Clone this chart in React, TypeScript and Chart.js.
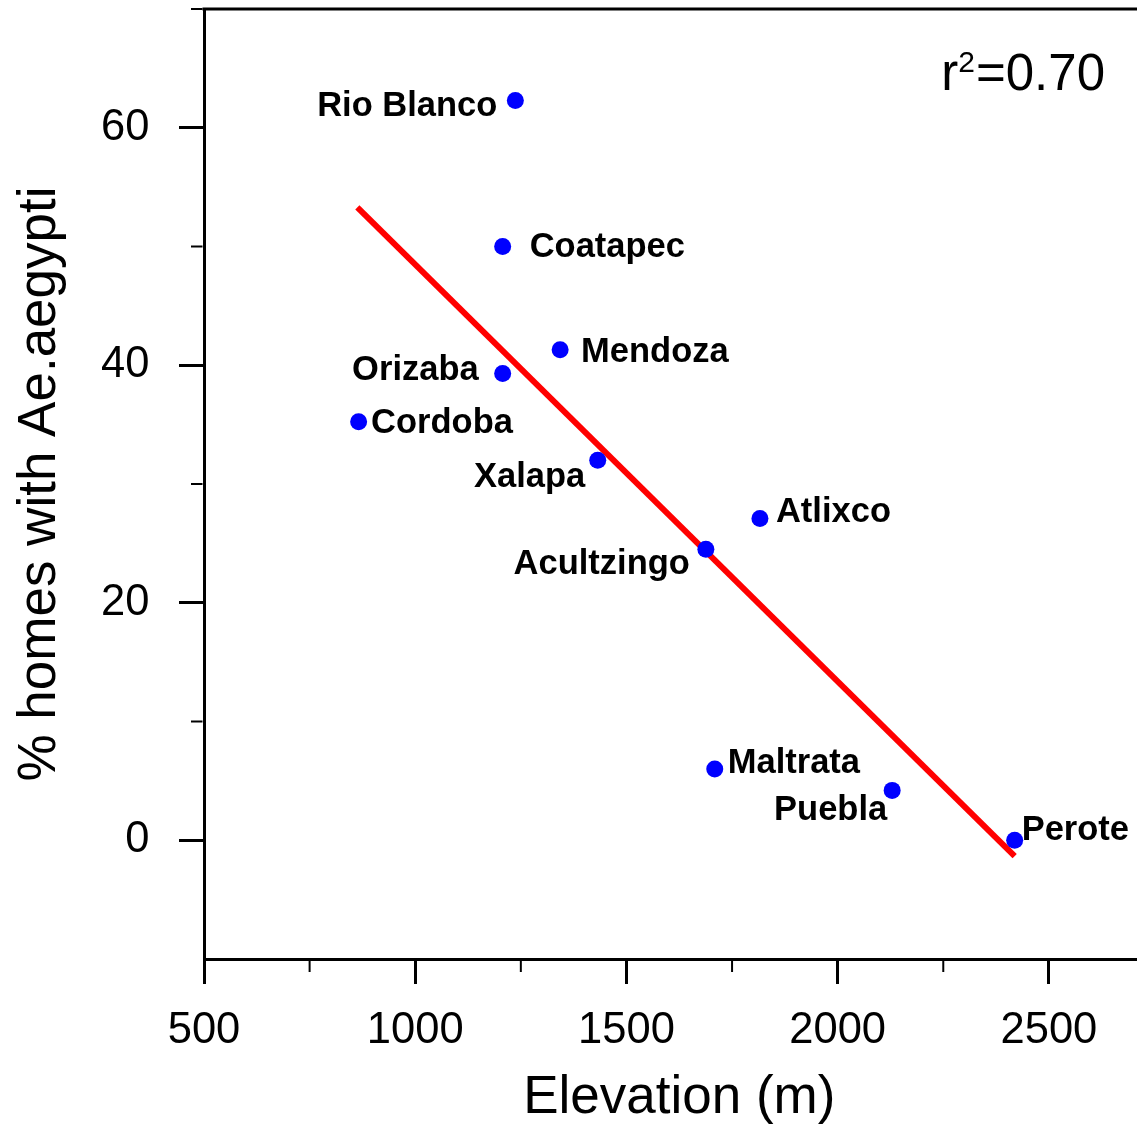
import React, { useEffect, useRef } from "react";
import { Chart, registerables } from "chart.js";

Chart.register(...registerables);

// ---- data ----
const cities = [
  "Rio Blanco",
  "Coatapec",
  "Mendoza",
  "Orizaba",
  "Cordoba",
  "Xalapa",
  "Atlixco",
  "Acultzingo",
  "Maltrata",
  "Puebla",
  "Perote",
];
const elevationM = [1237, 1207, 1343, 1207, 866, 1432, 1816, 1688, 1709, 2129, 2419];
const pctHomesAegypti = [62.3, 50.0, 41.3, 39.3, 35.25, 32.0, 27.1, 24.5, 6.0, 4.2, 0];
const fitElevation = [863, 2419];
const fitPct = [53.3, -1.33];
const xMajorTicks = [500, 1000, 1500, 2000, 2500];
const xMinorTicks = [750, 1250, 1750, 2250, 2750];
const yMajorTicks = [0, 20, 40, 60];
const yMinorTicks = [10, 30, 50, 70];
const rSquaredValue = "0.70";

// ---- label placement (layout only) ----
const labelPlacement: { align: CanvasTextAlign; dx: number; dy: number }[] = [
  { align: "right", dx: -18, dy: 16 },
  { align: "left", dx: 27, dy: 10 },
  { align: "left", dx: 21, dy: 12.5 },
  { align: "right", dx: -24, dy: 6 },
  { align: "left", dx: 12.5, dy: 11 },
  { align: "right", dx: -12.5, dy: 26.5 },
  { align: "left", dx: 16, dy: 4 },
  { align: "right", dx: -16, dy: 25 },
  { align: "left", dx: 13, dy: 4 },
  { align: "right", dx: -5, dy: 30 },
  { align: "left", dx: 7, dy: -0.5 },
];

const FONT = '"Liberation Sans", Arial, Helvetica, sans-serif';
const CANVAS_W = 1163;

const decorPlugin = {
  id: "decor",
  afterDraw(chart: any) {
    const { ctx, chartArea } = chart;
    const { left, right, top, bottom } = chartArea;
    const x = chart.scales.x;
    const y = chart.scales.y;
    ctx.save();
    ctx.strokeStyle = "#000";
    ctx.lineWidth = 3;
    ctx.beginPath();
    ctx.moveTo(left - 1.5, top);
    ctx.lineTo(right, top);
    ctx.lineTo(right, bottom + 1.5);
    ctx.stroke();

    ctx.lineWidth = 2;
    for (const v of yMinorTicks) {
      const py = y.getPixelForValue(v);
      ctx.beginPath();
      ctx.moveTo(left - 1.5, py);
      ctx.lineTo(left - 13, py);
      ctx.stroke();
    }
    for (const v of xMinorTicks) {
      const px = x.getPixelForValue(v);
      ctx.beginPath();
      ctx.moveTo(px, bottom + 1.5);
      ctx.lineTo(px, bottom + 13);
      ctx.stroke();
    }

    ctx.fillStyle = "#000";
    ctx.textBaseline = "alphabetic";
    ctx.font = `bold 34.5px ${FONT}`;
    cities.forEach((name, i) => {
      const px = x.getPixelForValue(elevationM[i]);
      const py = y.getPixelForValue(pctHomesAegypti[i]);
      const p = labelPlacement[i];
      ctx.textAlign = p.align;
      ctx.fillText(name, px + p.dx, py + p.dy);
    });

    // r^2 annotation
    const ax = left + 901;
    const ay = top + 81;
    ctx.textAlign = "right";
    ctx.font = `51px ${FONT}`;
    const main = "=" + rSquaredValue;
    ctx.fillText(main, ax, ay);
    const w1 = ctx.measureText(main).width;
    ctx.font = `30px ${FONT}`;
    ctx.fillText("2", ax - w1 - 1, ay - 18);
    const w2 = ctx.measureText("2").width;
    ctx.font = `51px ${FONT}`;
    ctx.fillText("r", ax - w1 - 1 - w2, ay);
    ctx.restore();
  },
};

export default function App() {
  const ref = useRef<HTMLCanvasElement | null>(null);

  useEffect(() => {
    const canvas = ref.current;
    if (!canvas) return;
    const chart = new Chart(canvas, {
      type: "scatter",
      data: {
        datasets: [
          {
            type: "scatter",
            label: "sites",
            data: elevationM.map((v, i) => ({ x: v, y: pctHomesAegypti[i] })),
            backgroundColor: "#0000ff",
            borderWidth: 0,
            pointRadius: 8.5,
            order: 0,
          } as any,
          {
            type: "line",
            label: "fit",
            data: fitElevation.map((v, i) => ({ x: v, y: fitPct[i] })),
            borderColor: "#ff0000",
            borderWidth: 6,
            pointRadius: 0,
            fill: false,
            order: 1,
          } as any,
        ],
      },
      options: {
        responsive: false,
        animation: false,
        events: [],
        layout: { padding: { top: 9, left: 0, right: 0, bottom: 0 } },
        plugins: { legend: { display: false }, tooltip: { enabled: false } },
        scales: {
          x: {
            type: "linear",
            min: 500,
            max: 2750,
            afterBuildTicks: (s: any) => {
              s.ticks = xMajorTicks.map((v) => ({ value: v }));
            },
            afterFit: (s: any) => {
              s.height = 170;
              s.paddingLeft = 0;
              s.paddingRight = 0;
              s.paddingTop = 0;
              s.paddingBottom = 0;
            },
            ticks: {
              font: { family: FONT, size: 43.5 },
              color: "#000",
              padding: 21,
              maxRotation: 0,
              autoSkip: false,
              callback: (v: any) => String(v),
            },
            grid: {
              drawOnChartArea: false,
              drawTicks: true,
              tickLength: 25,
              tickWidth: 3,
              tickColor: "#000",
            },
            border: { display: true, width: 3, color: "#000" },
            title: {
              display: true,
              text: "Elevation (m)",
              color: "#000",
              font: { family: FONT, size: 53, lineHeight: 1.14 },
              padding: { top: 0, bottom: 0 },
            },
          },
          y: {
            type: "linear",
            min: -10,
            max: 70,
            afterBuildTicks: (s: any) => {
              s.ticks = yMajorTicks.map((v) => ({ value: v }));
            },
            afterFit: (s: any) => {
              s.width = 204;
              s.paddingLeft = 0;
              s.paddingRight = 0;
              s.paddingTop = 0;
              s.paddingBottom = 0;
            },
            ticks: {
              font: { family: FONT, size: 43.5 },
              color: "#000",
              padding: 29.5,
              autoSkip: false,
              callback: (v: any) => String(v),
            },
            grid: {
              drawOnChartArea: false,
              drawTicks: true,
              tickLength: 25,
              tickWidth: 3,
              tickColor: "#000",
            },
            border: { display: true, width: 3, color: "#000" },
            title: {
              display: true,
              text: "% homes with Ae.aegypti",
              color: "#000",
              font: { family: FONT, size: 53, lineHeight: 1.14 },
              padding: { top: 10, bottom: 0 },
            },
          },
        },
      },
      plugins: [decorPlugin],
    });
    return () => chart.destroy();
  }, []);

  return (
    <div
      style={{
        position: "fixed",
        left: 0,
        top: 0,
        width: 1137,
        height: 1129,
        overflow: "hidden",
        background: "#fff",
      }}
    >
      <canvas
        ref={ref}
        width={CANVAS_W}
        height={1129}
        style={{ width: CANVAS_W, height: 1129, display: "block" }}
      />
    </div>
  );
}
